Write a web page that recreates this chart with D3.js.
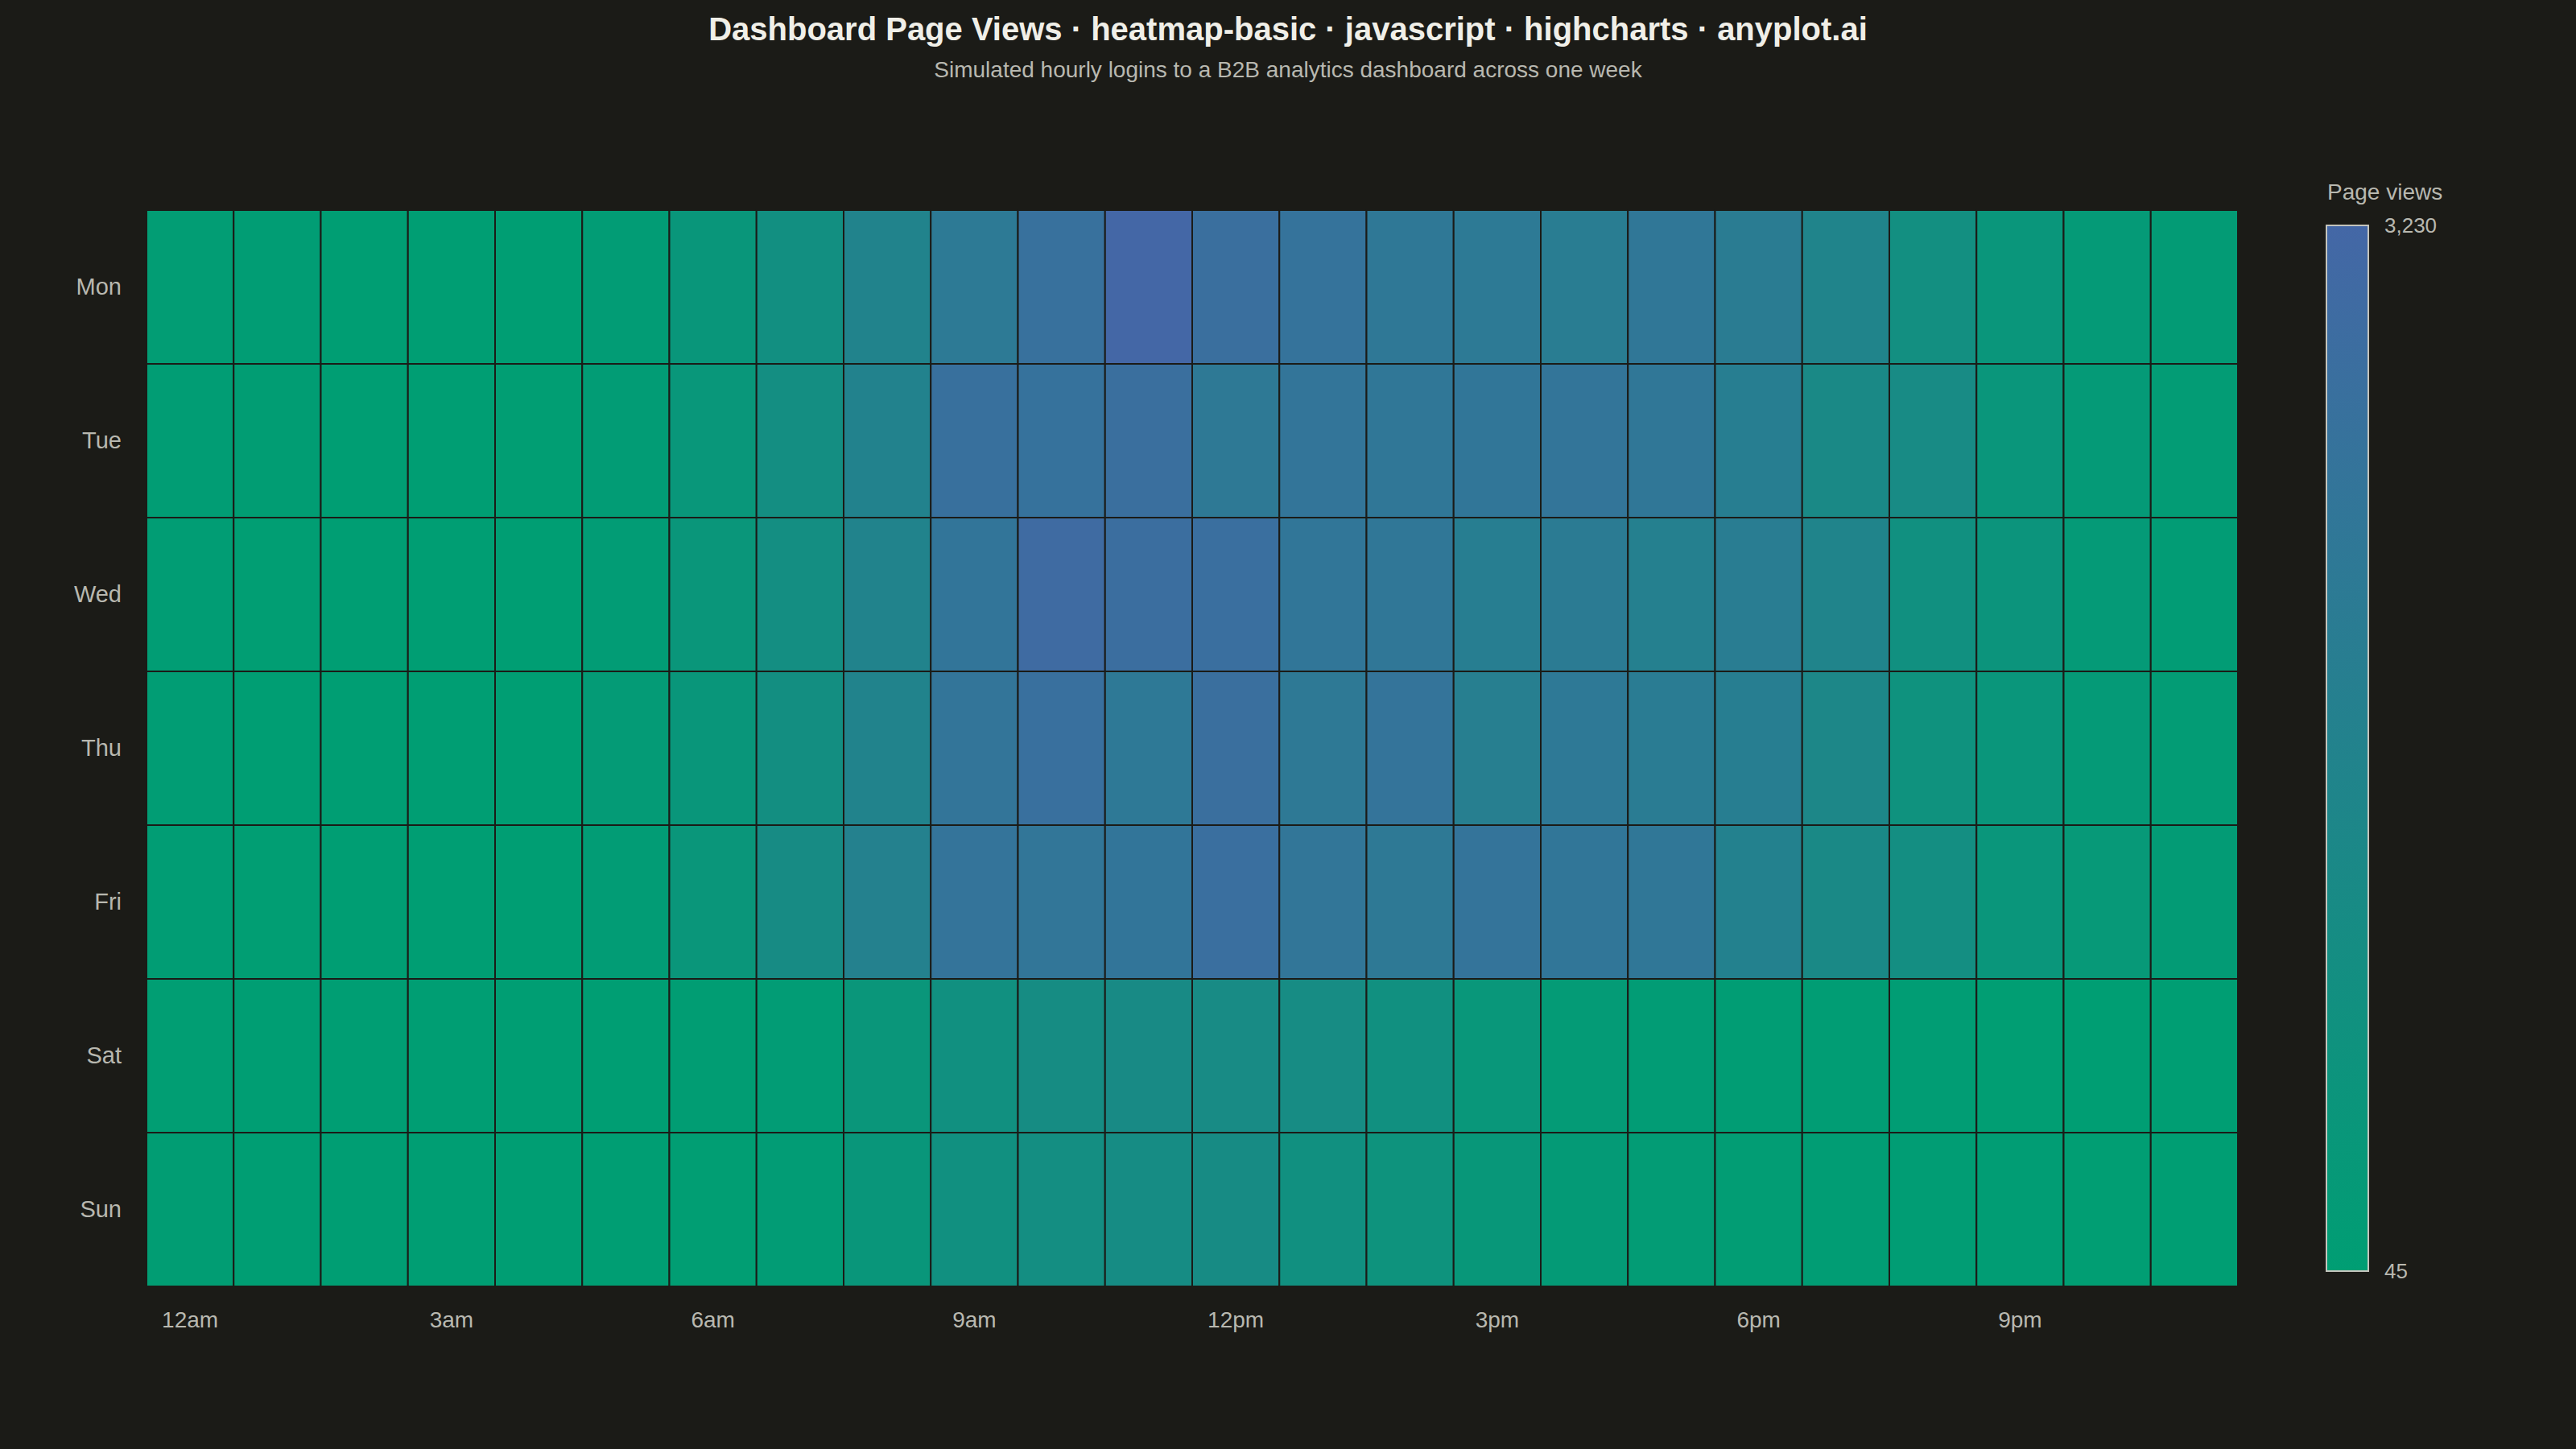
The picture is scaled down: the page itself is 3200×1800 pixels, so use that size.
<!DOCTYPE html>
<html>
<head>
<meta charset="utf-8">
<script src="https://cdn.jsdelivr.net/npm/d3@7"></script>
<style>
  html, body { margin: 0; padding: 0; background: #1b1b17; }
  svg { display: block; }
</style>
</head>
<body>
<div id="chart"></div>
<script>
// hourly page views per weekday
const days = ["Mon", "Tue", "Wed", "Thu", "Fri", "Sat", "Sun"];
const hours = ["12am", "1am", "2am", "3am", "4am", "5am", "6am", "7am", "8am", "9am", "10am", "11am",
               "12pm", "1pm", "2pm", "3pm", "4pm", "5pm", "6pm", "7pm", "8pm", "9pm", "10pm", "11pm"];
const hourTicks = ["12am", "3am", "6am", "9am", "12pm", "3pm", "6pm", "9pm"];

const mon = [120, 85, 60, 50, 65, 140, 480, 900, 1600, 2150, 2650, 3230, 2750, 2520, 2250, 2150, 1960, 2300, 2000, 1560, 940, 520, 290, 190];
const tue = [110, 75, 58, 52, 70, 145, 470, 960, 1640, 2690, 2590, 2750, 2180, 2430, 2280, 2340, 2430, 2310, 1890, 1250, 1160, 520, 290, 170];
const wed = [100, 70, 55, 48, 62, 150, 500, 960, 1610, 2400, 3010, 2820, 2780, 2340, 2280, 1890, 2050, 1800, 1950, 1560, 840, 620, 270, 160];
const thu = [95, 68, 52, 45, 66, 230, 480, 950, 1610, 2430, 2720, 2210, 2750, 2180, 2500, 1860, 2210, 2020, 1890, 1380, 750, 520, 290, 170];
const fri = [105, 72, 56, 50, 64, 160, 490, 1120, 1720, 2470, 2370, 2400, 2780, 2370, 2180, 2470, 2340, 2300, 1700, 1250, 990, 520, 350, 190];
const sat = [70, 55, 48, 46, 50, 60, 75, 160, 500, 840, 1060, 1190, 1160, 1100, 840, 460, 220, 150, 110, 90, 80, 72, 66, 60];
const sun = [75, 58, 50, 47, 52, 58, 70, 140, 480, 850, 1000, 1090, 1120, 860, 680, 440, 250, 170, 120, 100, 90, 80, 72, 68];

const rows = [mon, tue, wed, thu, fri, sat, sun];

const W = 3200, H = 1800;
const bg = "#1b1b17";
const font = "'Liberation Sans', Arial, Helvetica, sans-serif";

const svg = d3.select("#chart").append("svg")
    .attr("width", W)
    .attr("height", H)
    .style("font-family", font);

svg.append("rect").attr("width", W).attr("height", H).attr("fill", bg);

// title + subtitle
svg.append("text")
    .attr("x", W / 2).attr("y", 50)
    .attr("text-anchor", "middle")
    .attr("fill", "#f0efe8")
    .style("font-size", "40px")
    .style("font-weight", "bold")
    .text("Dashboard Page Views · heatmap-basic · javascript · highcharts · anyplot.ai");

svg.append("text")
    .attr("x", W / 2).attr("y", 96)
    .attr("text-anchor", "middle")
    .attr("fill", "#b8b8b0")
    .style("font-size", "28px")
    .text("Simulated hourly logins to a B2B analytics dashboard across one week");

const plot = {left: 182, right: 2780, top: 261, bottom: 1598};

const x = d3.scaleBand().domain(hours).range([plot.left, plot.right]);
const y = d3.scaleBand().domain(days).range([plot.top, plot.bottom]);

const allValues = rows.flat();
const vMin = d3.min(allValues), vMax = d3.max(allValues);
const color = d3.scaleLinear().domain([vMin, vMax]).range(["#009E73", "#4467A6"]);

const cells = [];
days.forEach((d, i) => {
    hours.forEach((h, j) => cells.push({day: d, hour: h, value: rows[i][j]}));
});

svg.append("g").selectAll("rect")
    .data(cells)
    .enter()
    .append("rect")
    .attr("x", d => x(d.hour))
    .attr("y", d => y(d.day))
    .attr("width", x.bandwidth())
    .attr("height", y.bandwidth())
    .attr("fill", d => color(d.value))
    .attr("stroke", bg)
    .attr("stroke-width", 2);

// axes
const xAxis = svg.append("g")
    .attr("transform", "translate(0," + plot.bottom + ")")
    .call(d3.axisBottom(x).tickValues(hourTicks).tickSize(0));
xAxis.select(".domain").remove();
xAxis.selectAll("text")
    .attr("y", 41)
    .attr("dy", "0.35em")
    .attr("fill", "#b8b8b0")
    .style("font-size", "28px")
    .style("font-family", font);

const yAxis = svg.append("g")
    .attr("transform", "translate(" + plot.left + ",0)")
    .call(d3.axisLeft(y).tickSize(0).tickPadding(31));
yAxis.select(".domain").remove();
yAxis.selectAll("text")
    .attr("fill", "#b8b8b0")
    .style("font-size", "29px")
    .style("font-family", font);

// color legend
const legend = {x: 2890, w: 52, top: 280, bottom: 1579};

svg.append("text")
    .attr("x", 2891).attr("y", 248)
    .attr("fill", "#b8b8b0")
    .style("font-size", "28px")
    .text("Page views");

const defs = svg.append("defs");
const grad = defs.append("linearGradient")
    .attr("id", "legendGrad")
    .attr("x1", 0).attr("y1", 1).attr("x2", 0).attr("y2", 0);
grad.append("stop").attr("offset", "0%").attr("stop-color", color(vMin));
grad.append("stop").attr("offset", "100%").attr("stop-color", color(vMax));

svg.append("rect")
    .attr("x", legend.x).attr("y", legend.top)
    .attr("width", legend.w).attr("height", legend.bottom - legend.top)
    .attr("fill", "url(#legendGrad)")
    .attr("stroke", "#c4c4bc")
    .attr("stroke-width", 2);

const legendScale = d3.scaleLinear().domain([vMin, vMax]).range([legend.bottom, legend.top]);
const lAxis = svg.append("g")
    .attr("transform", "translate(" + (legend.x + legend.w) + ",0)")
    .call(d3.axisRight(legendScale).tickValues([vMin, vMax]).tickFormat(d3.format(",")).tickSize(0).tickPadding(20));
lAxis.select(".domain").remove();
lAxis.selectAll("text")
    .attr("fill", "#b8b8b0")
    .style("font-size", "26px")
    .style("font-family", font);
</script>
</body>
</html>
